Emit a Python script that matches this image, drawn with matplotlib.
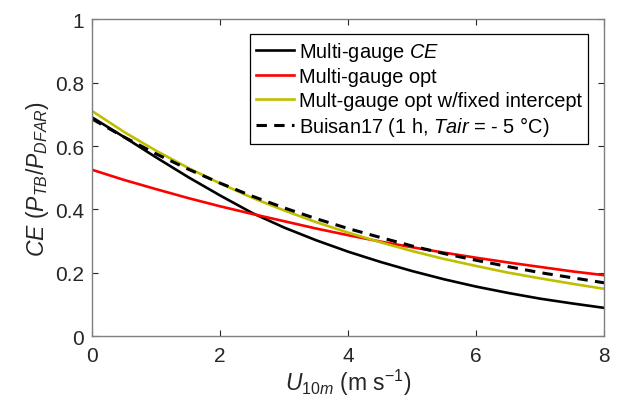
import matplotlib
matplotlib.use("Agg")
import matplotlib.pyplot as plt

# wind speed (m s-1) and catch efficiency
wind = [0.0, 0.5, 1.0, 1.5, 2.0, 2.5, 3.0, 3.5, 4.0, 4.5, 5.0, 5.5, 6.0, 6.5, 7.0, 7.5, 8.0]
ce_multi = [0.690, 0.628, 0.564, 0.502, 0.444, 0.389, 0.343, 0.303, 0.267,
            0.235, 0.206, 0.180, 0.157, 0.137, 0.119, 0.104, 0.090]
ce_opt = [0.525, 0.493, 0.464, 0.436, 0.410, 0.386, 0.363, 0.340, 0.319,
          0.299, 0.281, 0.264, 0.248, 0.233, 0.219, 0.205, 0.193]
ce_fixed = [0.710, 0.644, 0.585, 0.531, 0.482, 0.437, 0.397, 0.360, 0.327,
            0.297, 0.269, 0.244, 0.222, 0.201, 0.183, 0.166, 0.150]
ce_buisan = [0.685, 0.628, 0.575, 0.527, 0.483, 0.442, 0.405, 0.371, 0.340,
             0.312, 0.285, 0.261, 0.240, 0.220, 0.201, 0.185, 0.169]

labels = [
    "Multi-gauge $\\it{CE}$",
    "Multi-gauge opt",
    "Mult-gauge opt w/fixed intercept",
    "Buisan17 (1 h, $\\it{Tair}$ = - 5 °C)",
]

AXIS_GREY = "#262626"

plt.rcParams.update({
    "font.family": "Liberation Sans",
    "mathtext.fontset": "custom",
    "mathtext.rm": "Liberation Sans",
    "mathtext.it": "Liberation Sans:italic",
    "mathtext.bf": "Liberation Sans:bold",
    "font.size": 14,
})

fig = plt.figure(figsize=(6.19, 4.10), dpi=100)
ax = fig.add_axes([0.149, 0.177, 0.827, 0.774])

ax.plot(wind, ce_multi, color="black", lw=1.9, label=labels[0])
ax.plot(wind, ce_opt, color="#FF0000", lw=1.9, label=labels[1])
ax.plot(wind, ce_fixed, color="#BFBF00", lw=1.9, label=labels[2])
ax.plot(wind, ce_buisan, color="black", lw=2.2, linestyle=(0, (3.4, 2.4)), label=labels[3])

ax.set_xlim(0, 8)
ax.set_ylim(0, 1)
ax.set_xticks([0, 2, 4, 6, 8])
ax.set_yticks([0, 0.2, 0.4, 0.6, 0.8, 1])
ax.set_yticklabels(["0", "0.2", "0.4", "0.6", "0.8", "1"])
ax.tick_params(direction="in", top=True, right=True, length=4, width=0.8,
               colors=AXIS_GREY, labelsize=15)
ax.tick_params(axis="x", pad=7)
ax.tick_params(axis="y", pad=6)
for spine in ax.spines.values():
    spine.set_color("#7f7f7f")
    spine.set_linewidth(1.0)

ax.set_xlabel("$U_{10m}$ (m s$^{-1}$)", fontsize=16.5, color=AXIS_GREY, labelpad=1)
ax.set_ylabel("$CE$ ($P_{TB}/P_{DFAR}$)", fontsize=16.5, color=AXIS_GREY, labelpad=3)

leg = ax.legend(loc="upper right", bbox_to_anchor=(0.969, 0.953), borderaxespad=0,
                fontsize=14.4, handlelength=1.9, handletextpad=0.25, labelspacing=0.22,
                borderpad=0.3, fancybox=False, framealpha=1, edgecolor="black")
leg.get_frame().set_linewidth(0.9)

fig.savefig("out.png", dpi=100)
